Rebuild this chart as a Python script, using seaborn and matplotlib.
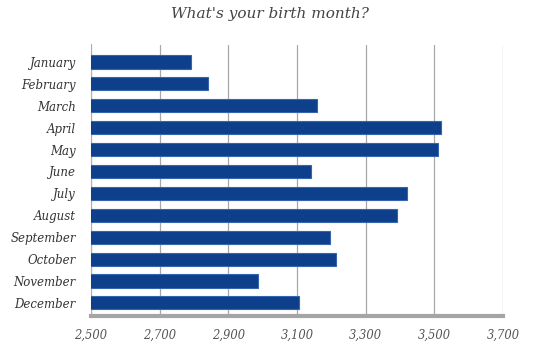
import matplotlib
matplotlib.use("Agg")
import matplotlib.pyplot as plt
import matplotlib.transforms as mtransforms
import seaborn as sns
import pandas as pd

months = ["January", "February", "March", "April", "May", "June",
          "July", "August", "September", "October", "November", "December"]
counts = [2790, 2840, 3158, 3520, 3510, 3140, 3420, 3390, 3195, 3215, 2985, 3105]
xticks = [2500, 2700, 2900, 3100, 3300, 3500, 3700]
xtick_labels = ["2,500", "2,700", "2,900", "3,100", "3,300", "3,500", "3,700"]
title = "What's your birth month?"

sns.set_theme(style="white")
plt.rcParams["font.family"] = ["DejaVu Serif"]

df = pd.DataFrame({"month": months, "count": counts})

fig = plt.figure(figsize=(5.4, 3.49), dpi=100)
ax = fig.add_axes([91 / 540, 1 - 316 / 349, 412 / 540, 271.5 / 349])

sns.barplot(data=df, x="count", y="month", orient="h", ax=ax,
            color="#0E3F8A", saturation=1, width=0.6,
            edgecolor="#3565AE", linewidth=0.8, zorder=3)

ax.set_xlim(2500, 3700)
ax.set_ylim(11.6, -0.8)
ax.set_xticks(xticks)
ax.set_xticklabels(xtick_labels)
ax.set_xlabel("")
ax.set_ylabel("")

ax.grid(axis="x", color="#A8A8A8", linewidth=0.9, zorder=0)
ax.grid(axis="y", visible=False)

for side in ["top", "right"]:
    ax.spines[side].set_visible(False)
ax.spines["left"].set_color("#B0B0B0")
ax.spines["left"].set_linewidth(0.8)
ax.spines["bottom"].set_color("#A5A5A5")
ax.spines["bottom"].set_linewidth(3)

ax.tick_params(axis="both", length=0, colors="#333333")
offset = mtransforms.ScaledTranslation(-8 / 100, 0, fig.dpi_scale_trans)
for lbl in ax.get_xticklabels():
    lbl.set_transform(lbl.get_transform() + offset)
    lbl.set_fontstyle("italic")
    lbl.set_fontsize(8.3)
    lbl.set_color("#555555")
for lbl in ax.get_yticklabels():
    lbl.set_fontstyle("italic")
    lbl.set_fontsize(8.5)
    lbl.set_color("#333333")
ax.tick_params(axis="y", pad=11)
ax.tick_params(axis="x", pad=9)

fig.text(0.5, 1 - 14 / 349, title, ha="center", va="center",
         fontsize=11, fontstyle="italic", color="#444444")

fig.savefig("out.png", dpi=100, facecolor="white")
